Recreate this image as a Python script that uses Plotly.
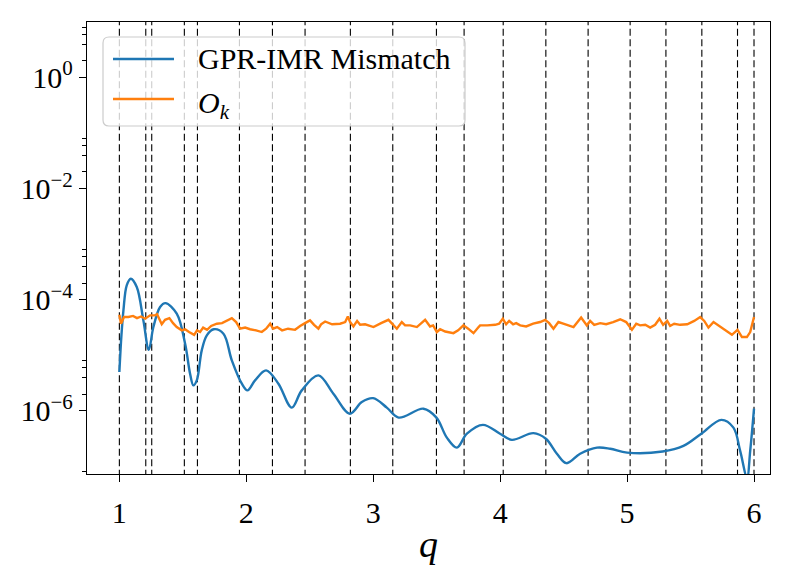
import plotly.graph_objects as go

# ---------------- data ----------------
q_mismatch = [1.000, 1.016, 1.032, 1.058, 1.090, 1.137, 1.189, 1.232, 1.268, 1.321,
              1.363, 1.452, 1.518, 1.557, 1.583, 1.610, 1.649, 1.689, 1.744, 1.820,
              1.886, 1.965, 2.009, 2.069, 2.156, 2.253, 2.358, 2.437, 2.568, 2.686,
              2.816, 2.910, 2.999, 3.107, 3.200, 3.396, 3.498, 3.580, 3.659, 3.738,
              3.864, 3.999, 4.092, 4.262, 4.360, 4.447, 4.523, 4.630, 4.763, 4.867,
              5.000, 5.280, 5.444, 5.585, 5.743, 5.838, 5.891, 5.945, 5.970, 6.000]
log_mismatch = [-5.30, -4.65, -4.19, -3.74, -3.62, -3.77, -4.37, -4.90, -4.49, -4.13,
                -4.06, -4.25, -4.79, -5.33, -5.54, -5.45, -4.91, -4.64, -4.53, -4.61,
                -5.09, -5.51, -5.63, -5.45, -5.27, -5.51, -5.94, -5.63, -5.36, -5.69,
                -6.05, -5.84, -5.77, -5.94, -6.12, -5.96, -6.12, -6.48, -6.66, -6.41,
                -6.25, -6.41, -6.52, -6.40, -6.50, -6.77, -6.94, -6.77, -6.66, -6.68,
                -6.75, -6.73, -6.63, -6.41, -6.16, -6.30, -6.72, -7.20, -6.72, -5.96]

q_ok = [1.000, 1.013, 1.037, 1.071, 1.108, 1.139, 1.171, 1.203, 1.242, 1.281,
        1.297, 1.334, 1.360, 1.394, 1.423, 1.452, 1.492, 1.518, 1.549, 1.589,
        1.612, 1.636, 1.660, 1.691, 1.723, 1.768, 1.809, 1.841, 1.886, 1.920,
        1.951, 1.991, 2.030, 2.077, 2.122, 2.156, 2.188, 2.211, 2.243, 2.282,
        2.329, 2.384, 2.424, 2.463, 2.502, 2.534, 2.568, 2.589, 2.621, 2.676,
        2.739, 2.779, 2.800, 2.818, 2.844, 2.873, 2.897, 2.936, 3.002, 3.062,
        3.120, 3.186, 3.225, 3.251, 3.291, 3.344, 3.377, 3.409, 3.448, 3.472,
        3.501, 3.527, 3.567, 3.632, 3.669, 3.711, 3.748, 3.790, 3.827, 3.842,
        3.898, 3.961, 3.992, 4.021, 4.047, 4.071, 4.102, 4.126, 4.158, 4.205,
        4.260, 4.315, 4.355, 4.386, 4.420, 4.459, 4.497, 4.536, 4.578, 4.638,
        4.683, 4.709, 4.741, 4.788, 4.835, 4.890, 4.946, 4.993, 5.038, 5.072,
        5.103, 5.143, 5.182, 5.221, 5.255, 5.284, 5.316, 5.339, 5.371, 5.418,
        5.474, 5.529, 5.576, 5.608, 5.641, 5.681, 5.734, 5.781, 5.826, 5.870,
        5.905, 5.944, 5.970, 6.000]
log_ok = [-4.27, -4.43, -4.31, -4.31, -4.29, -4.33, -4.30, -4.34, -4.28, -4.28,
          -4.26, -4.44, -4.36, -4.33, -4.42, -4.49, -4.55, -4.53, -4.58, -4.63,
          -4.55, -4.58, -4.50, -4.54, -4.47, -4.43, -4.42, -4.38, -4.33, -4.40,
          -4.52, -4.50, -4.53, -4.55, -4.58, -4.52, -4.43, -4.52, -4.49, -4.55,
          -4.52, -4.54, -4.47, -4.42, -4.37, -4.45, -4.52, -4.44, -4.39, -4.44,
          -4.43, -4.40, -4.30, -4.40, -4.48, -4.38, -4.45, -4.44, -4.49, -4.42,
          -4.36, -4.52, -4.40, -4.46, -4.46, -4.49, -4.43, -4.36, -4.48, -4.46,
          -4.58, -4.53, -4.57, -4.60, -4.55, -4.46, -4.52, -4.60, -4.50, -4.46,
          -4.46, -4.45, -4.43, -4.34, -4.44, -4.38, -4.44, -4.42, -4.46, -4.48,
          -4.43, -4.40, -4.36, -4.42, -4.52, -4.40, -4.43, -4.46, -4.49, -4.32,
          -4.46, -4.38, -4.45, -4.42, -4.44, -4.40, -4.35, -4.40, -4.54, -4.43,
          -4.46, -4.45, -4.50, -4.45, -4.34, -4.45, -4.38, -4.47, -4.43, -4.45,
          -4.44, -4.38, -4.31, -4.38, -4.50, -4.40, -4.48, -4.55, -4.63, -4.54,
          -4.67, -4.67, -4.58, -4.31]

q_nodes = [1.000, 1.208, 1.255, 1.512, 1.615, 1.946, 2.206, 2.463, 2.820, 3.154,
           3.498, 3.716, 4.024, 4.360, 4.693, 5.024, 5.306, 5.589, 5.870, 6.000]

x_ticks = [1, 2, 3, 4, 5, 6]
y_major = [1e0, 1e-2, 1e-4, 1e-6]
y_major_text = ["10<sup>0</sup>", "10<sup>−2</sup>", "10<sup>−4</sup>", "10<sup>−6</sup>"]
y_minor = [m * 10.0 ** e for e in (0, -2, -4, -6, -8) for m in (2, 4, 6, 8)]

x_range = [0.745, 6.126]
y_range_log = [-7.135, 1.0]

label_mismatch = "GPR-IMR Mismatch"
label_ok = "<i>O</i><sub><i>k</i></sub>"

BLUE = "#1f77b4"
ORANGE = "#ff7f0e"
FONT = "Liberation Serif"

# ---------------- figure ----------------
W, H = 808, 575
ML, MR, MT, MB = 87, 38, 22, 101
PW, PH = W - ML - MR, H - MT - MB

fig = go.Figure()

# vertical dashed lines at the nodes
vx, vy = [], []
ylo, yhi = 10 ** (y_range_log[0] - 0.05), 10 ** (y_range_log[1] + 0.05)
for qn in q_nodes:
    vx += [qn, qn, None]
    vy += [ylo, yhi, None]
fig.add_trace(go.Scatter(x=vx, y=vy, mode="lines", showlegend=False, hoverinfo="skip",
                         line=dict(color="black", width=1.1, dash="7px,3.5px")))

fig.add_trace(go.Scatter(x=q_mismatch, y=[10 ** v for v in log_mismatch], mode="lines",
                         name=label_mismatch, showlegend=False,
                         line=dict(color=BLUE, width=2.4, shape="spline", smoothing=1.0)))
fig.add_trace(go.Scatter(x=q_ok, y=[10 ** v for v in log_ok], mode="lines",
                         name=label_ok, showlegend=False,
                         line=dict(color=ORANGE, width=2.4)))

# ---------------- manual legend (matplotlib-style) ----------------
def px2paper(px, py):
    return (px - ML) / PW, (H - MB - py) / PH

lx0, ly0 = 103, 37
lx1, ly1 = 465, 126
r = 6
def P(px, py):
    a, b = px2paper(px, py)
    return f"{a:.5f},{b:.5f}"
path = (f"M{P(lx0 + r, ly0)} L{P(lx1 - r, ly0)} Q{P(lx1, ly0)} {P(lx1, ly0 + r)} "
        f"L{P(lx1, ly1 - r)} Q{P(lx1, ly1)} {P(lx1 - r, ly1)} "
        f"L{P(lx0 + r, ly1)} Q{P(lx0, ly1)} {P(lx0, ly1 - r)} "
        f"L{P(lx0, ly0 + r)} Q{P(lx0, ly0)} {P(lx0 + r, ly0)} Z")
shapes = [dict(type="path", xref="paper", yref="paper", path=path,
               fillcolor="rgba(255,255,255,0.8)", line=dict(color="#cccccc", width=1.2),
               layer="above")]
annotations = []
for py, col, txt, dy in [(59, BLUE, label_mismatch, 0), (99, ORANGE, label_ok, 6)]:
    xa, ya = px2paper(113, py)
    xb, _ = px2paper(174, py)
    shapes.append(dict(type="line", xref="paper", yref="paper", x0=xa, x1=xb, y0=ya, y1=ya,
                       line=dict(color=col, width=2.4), layer="above"))
    tx, ty = px2paper(196, py + dy)
    annotations.append(dict(x=tx, y=ty, xref="paper", yref="paper", text=txt, showarrow=False,
                            xanchor="left", yanchor="middle",
                            font=dict(family=FONT, size=30, color="black")))

fig.update_layout(
    width=W, height=H,
    margin=dict(l=ML, r=MR, t=MT, b=MB, pad=0),
    paper_bgcolor="white", plot_bgcolor="white",
    font=dict(family=FONT, size=30, color="black"),
    shapes=shapes, annotations=annotations,
    showlegend=False,
)
fig.update_xaxes(range=x_range, tickvals=x_ticks, ticktext=[str(t) for t in x_ticks],
                 showgrid=False, zeroline=False, showline=True, linecolor="black",
                 linewidth=1.3, mirror=True, ticks="outside", ticklen=7, tickwidth=1.3,
                 tickcolor="black", tickfont=dict(family=FONT, size=30), ticklabelstandoff=5,
                 title=dict(text="<i>q</i>", font=dict(family=FONT, size=38), standoff=2))
fig.update_yaxes(type="log", range=y_range_log, tickvals=y_major, ticktext=y_major_text,
                 showgrid=False, zeroline=False, showline=True, linecolor="black",
                 linewidth=1.3, mirror=True, ticks="outside", ticklen=7, tickwidth=1.3,
                 tickcolor="black", tickfont=dict(family=FONT, size=30),
                 minor=dict(tickvals=y_minor, ticks="outside", ticklen=4, tickwidth=1,
                            tickcolor="black", showgrid=False))

fig.write_html("out.html")
